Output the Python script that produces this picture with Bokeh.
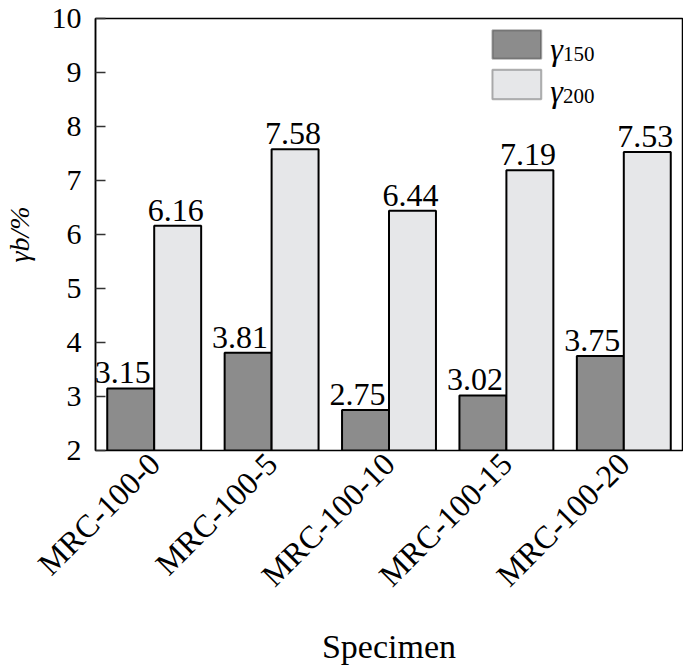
import math
from bokeh.plotting import figure
from bokeh.models import ColumnDataSource, Range1d, FixedTicker, LabelSet, Label, BoxAnnotation
from bokeh.transform import dodge
from bokeh.core.properties import value
from bokeh.embed import file_html
from bokeh.resources import INLINE

categories = ["MRC-100-0", "MRC-100-5", "MRC-100-10", "MRC-100-15", "MRC-100-20"]
gamma150 = [3.15, 3.81, 2.75, 3.02, 3.75]
gamma200 = [6.16, 7.58, 6.44, 7.19, 7.53]
y_ticks = [2, 3, 4, 5, 6, 7, 8, 9, 10]

FONT = "Liberation Serif"
DARK = "#8c8c8c"
LIGHT = "#e6e7e9"

src = ColumnDataSource(data=dict(
    cats=categories,
    g150=gamma150,
    g200=gamma200,
    t150=[f"{v:.2f}" for v in gamma150],
    t200=[f"{v:.2f}" for v in gamma200],
))

p = figure(x_range=categories, y_range=Range1d(2, 10), width=683, height=667,
           output_backend="svg", toolbar_location=None,
           min_border_left=92, min_border_right=1, min_border_top=18, min_border_bottom=214)

p.vbar(x=dodge("cats", -0.2, range=p.x_range), top="g150", bottom=2, width=0.4,
       source=src, fill_color=DARK, line_color="black", line_width=2)
p.vbar(x=dodge("cats", 0.2, range=p.x_range), top="g200", bottom=2, width=0.4,
       source=src, fill_color=LIGHT, line_color="black", line_width=2)

for field, tfield, off, xo in (("g150", "t150", -0.2, -8), ("g200", "t200", 0.2, -2)):
    p.add_layout(LabelSet(x=dodge("cats", off, range=p.x_range), y=field, text=tfield,
                          source=src, text_align="center", text_baseline="alphabetic",
                          x_offset=xo, y_offset=5, text_font=value(FONT),
                          text_font_size="32px", text_color="black"))

# grid / frame
p.xgrid.grid_line_color = None
p.ygrid.grid_line_color = None
p.outline_line_color = "black"
p.outline_line_width = 1.5
p.background_fill_color = "white"

# y axis
p.yaxis.ticker = FixedTicker(ticks=y_ticks)
p.yaxis.major_tick_in = 10
p.yaxis.major_tick_out = 0
p.yaxis.minor_tick_line_color = None
p.yaxis.major_tick_line_color = "#333333"
p.yaxis.major_tick_line_width = 1.5
p.yaxis.axis_line_color = "black"
p.yaxis.axis_line_width = 1.5
p.yaxis.major_label_text_font = FONT
p.yaxis.major_label_text_font_size = "30px"
p.yaxis.major_label_text_color = "black"
p.yaxis.major_label_standoff = 14
p.yaxis.axis_label = "γb/%"
p.yaxis.axis_label_text_font = FONT
p.yaxis.axis_label_text_font_size = "28px"
p.yaxis.axis_label_text_font_style = "italic"
p.yaxis.axis_label_text_color = "black"
p.yaxis.axis_label_standoff = 14

# x axis
p.xaxis.major_tick_in = 0
p.xaxis.major_tick_out = 0
p.xaxis.axis_line_color = "black"
p.xaxis.axis_line_width = 1
p.xaxis.major_label_orientation = math.pi / 4
p.xaxis.major_label_text_font = FONT
p.xaxis.major_label_text_font_size = "32px"
p.xaxis.major_label_text_color = "black"
p.xaxis.major_label_standoff = 8
p.xaxis.axis_label = "Specimen"
p.xaxis.axis_label_text_font = FONT
p.xaxis.axis_label_text_font_size = "34px"
p.xaxis.axis_label_text_font_style = "normal"
p.xaxis.axis_label_text_color = "black"
p.xaxis.axis_label_standoff = 19

def lab(x, y, text, size, style="normal"):
    p.add_layout(Label(x=x, y=y, text=text, text_font=FONT, text_font_size=size,
                       text_font_style=style, text_color="black",
                       text_align="left", text_baseline="alphabetic"))

# legend
p.add_layout(BoxAnnotation(left=3.381, right=3.797, top=9.781, bottom=9.253,
                           fill_color=DARK, fill_alpha=1, line_color="black", line_width=2))
p.add_layout(BoxAnnotation(left=3.381, right=3.797, top=9.052, bottom=8.506,
                           fill_color=LIGHT, fill_alpha=1, line_color="black", line_width=2))
lab(3.873, 9.435, "γ", "32px", "italic")
lab(3.983, 9.344, "150", "21px")
lab(3.873, 8.651, "γ", "32px", "italic")
lab(3.983, 8.560, "200", "21px")

open("out.html", "w").write(file_html(p, INLINE))
